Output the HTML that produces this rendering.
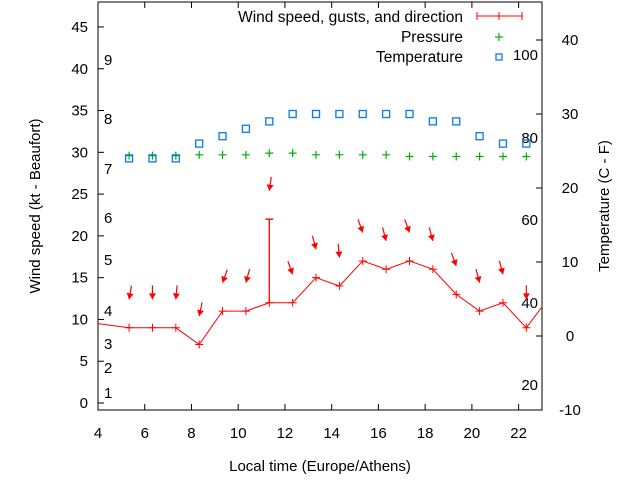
<!DOCTYPE html>
<html><head><meta charset="utf-8"><style>
body{margin:0;background:#fff}
svg{display:block;font-family:"Liberation Sans",sans-serif}
</style></head><body>
<svg id="chart" width="640" height="480">
<g id="grid"></g>
</svg>
<script>
const hours=[5.33,6.33,7.33,8.33,9.33,10.33,11.33,12.33,13.33,14.33,15.33,16.33,17.33,18.33,19.33,20.33,21.33,22.33];
const wind=[9,9,9,7,11,11,12,12,15,14,17,16,17,16,13,11,12,9];
const gusts=[null,null,null,null,null,null,22,null,null,null,null,null,null,null,null,null,null,null];
const windDir=[-10,0,-5,-12,-20,-15,-8,20,15,5,20,15,20,15,20,15,15,0];
const pressure=[29.6,29.6,29.6,29.7,29.7,29.7,29.9,29.9,29.7,29.7,29.7,29.7,29.5,29.5,29.5,29.5,29.5,29.5];
const temperature=[24,24,24,26,27,28,29,30,30,30,30,30,30,29,29,27,26,26];
const leftTicks=[0,5,10,15,20,25,30,35,40,45];
const rightTicks=[-10,0,10,20,30,40];
const xTicks=[4,6,8,10,12,14,16,18,20,22];
const beaufort=[[1,393],[2,368],[3,344],[4,311],[5,260],[6,218],[7,169],[8,119],[9,60]];
const fahr=[[20,385],[40,303],[60,220],[80,138],[100,55]];

const L=98,R=542,T=2,B=410;
const X=h=>L+(h-4)*(R-L)/19;
const Y=v=>403-v*8.356;
const Y2=c=>336-c*7.4;
const svg=document.getElementById('chart');
const NS='http://www.w3.org/2000/svg';
function mk(tag,attrs,parent){const e=document.createElementNS(NS,tag);for(const k in attrs)e.setAttribute(k,attrs[k]);(parent||svg).appendChild(e);return e;}
function txt(x,y,s,anchor,size){const t=mk('text',{x:x,y:y,'font-size':size||14,'text-anchor':anchor||'start',fill:'#000'});t.textContent=s;return t;}

const frame=mk('rect',{x:L,y:T,width:R-L,height:B-T,fill:'none',stroke:'#000','stroke-width':1});


leftTicks.forEach(v=>{
  mk('line',{x1:L,x2:L+6,y1:Y(v),y2:Y(v),stroke:'#000'});
  const t=txt(L-10,Y(v)+5,String(v),'end',15);
  
  
});
rightTicks.forEach(v=>{
  mk('line',{x1:R-6,x2:R,y1:Y2(v),y2:Y2(v),stroke:'#000'});
  const t=txt(R+28,Y2(v)+5,String(v),'middle',15);
  
  
});
xTicks.forEach(v=>{
  mk('line',{x1:X(v),x2:X(v),y1:B,y2:B-6,stroke:'#000'});
  mk('line',{x1:X(v),x2:X(v),y1:T,y2:T+6,stroke:'#000'});
  const t=txt(X(v),B+28,String(v),'middle',15);
  
  
});
beaufort.forEach(([s,y])=>{const t=txt(104,y+5,String(s),'start',15);});
fahr.forEach(([s,y])=>{const t=txt(538,y+5,String(s),'end',15);});

let xt=txt(320,471,'Local time (Europe/Athens)','middle',15);


let yt=txt(0,0,'Wind speed (kt - Beaufort)','middle',15);
yt.setAttribute('transform','translate(40,206) rotate(-90)');


let y2t=txt(0,0,'Temperature (C - F)','middle',15);
y2t.setAttribute('transform','translate(609,206) rotate(-90)');



const defs=mk('defs',{});const cp=mk('clipPath',{id:'clip'},defs);mk('rect',{x:L,y:T,width:R-L,height:B-T},cp);
const g=mk('g',{'clip-path':'url(#clip)'});
let pts=[[L,Y(9.5)]].concat(hours.map((h,i)=>[X(h),Y(wind[i])])).concat([[R,Y(11.5)]]);
const wl=mk('polyline',{points:pts.map(p=>p.join(',')).join(' '),fill:'none',stroke:'#f00','stroke-width':1},g);


hours.forEach((h,i)=>{
  const x=X(h),y=Y(wind[i]);
  const m=mk('path',{d:`M${x-4},${y}h8M${x},${y-4}v8`,stroke:'#f00'},g);
  
  
  if(gusts[i]!=null){
    const gy=Y(gusts[i]);
    const gb=mk('path',{d:`M${x},${y}V${gy}M${x-4},${gy}h8`,stroke:'#f00','stroke-width':1.3},g);
    
    
  }
  const top=Math.max(wind[i],gusts[i]||0)+3.4;
  const ty=Y(top),a=windDir[i]*Math.PI/180,len=14;
  const tx=x-Math.sin(a)*len, tyy=ty-Math.cos(a)*len;
  const ar=mk('g',{},g);
  
  
  mk('line',{x1:tx,y1:tyy,x2:x,y2:ty,stroke:'#f00','stroke-width':1.2},ar);
  const ux=Math.sin(a),uy=Math.cos(a);
  const px=-uy,py=ux;
  mk('polygon',{points:`${x},${ty} ${x-ux*6+px*3.5},${ty-uy*6+py*3.5} ${x-ux*6-px*3.5},${ty-uy*6-py*3.5}`,fill:'#f00'},ar);
  const pp=mk('path',{d:`M${x-4},${Y(pressure[i])}h8M${x},${Y(pressure[i])-4}v8`,stroke:'#00b000','stroke-width':1.2},g);
  
  
  const sq=mk('rect',{x:x-3.5,y:Y2(temperature[i])-3.5,width:7,height:7,fill:'none',stroke:'#0a7ae8','stroke-width':1.3},g);
  
  
});
const lg=mk('g',{});


[['Wind speed, gusts, and direction',17],['Pressure',37],['Temperature',57]].forEach(([s,y])=>{const t=txt(463,y+5,s,'end',15.5);lg.appendChild(t);});
mk('path',{d:'M477,16H522M477,12v8M522,12v8M499,12v8',stroke:'#f00'},lg);
mk('path',{d:'M495,37h8M499,33v8',stroke:'#00b000','stroke-width':1.2},lg);
mk('rect',{x:496,y:54,width:6,height:6,fill:'none',stroke:'#0a7ae8','stroke-width':1.3},lg);
</script>
</body></html>
